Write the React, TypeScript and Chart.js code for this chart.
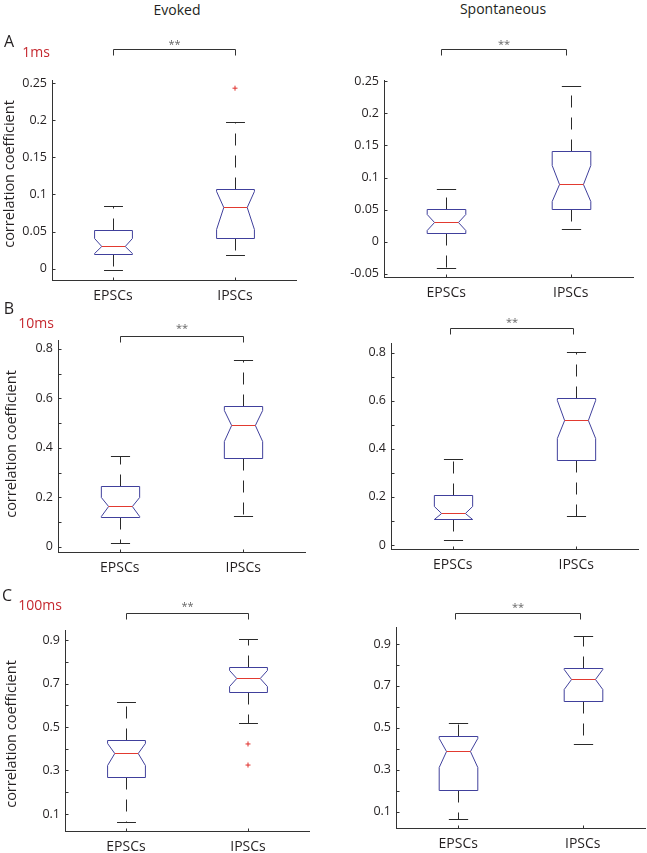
import React, { useEffect, useRef } from "react";
import { Chart, registerables } from "chart.js";

Chart.register(...registerables);
Chart.defaults.font.family = "'Open Sans', 'Noto Sans', sans-serif";

const categories = ["EPSCs", "IPSCs"];
const significance = "**";

// [lower whisker, Q1, notch low, median, notch high, Q3, upper whisker]
const evoked1msEPSC = [-0.002, 0.02, 0.021, 0.031, 0.041, 0.052, 0.084];
const evoked1msIPSC = [0.019, 0.041, 0.053, 0.083, 0.105, 0.107, 0.197];
const evoked1msOutliers = [[], [0.243]];

const spont1msEPSC = [-0.041, 0.0134, 0.019, 0.0305, 0.0424, 0.0507, 0.0828];
const spont1msIPSC = [0.0202, 0.0512, 0.063, 0.0905, 0.119, 0.1417, 0.2426];
const spont1msOutliers = [[], []];

const evoked10msEPSC = [0.0135, 0.119, 0.124, 0.165, 0.202, 0.247, 0.366];
const evoked10msIPSC = [0.124, 0.358, 0.429, 0.493, 0.553, 0.571, 0.756];
const evoked10msOutliers = [[], []];

const spont10msEPSC = [0.021, 0.107, 0.107, 0.1345, 0.164, 0.208, 0.356];
const spont10msIPSC = [0.122, 0.352, 0.444, 0.52, 0.603, 0.61, 0.803];
const spont10msOutliers = [[], []];

const evoked100msEPSC = [0.062, 0.269, 0.325, 0.382, 0.428, 0.44, 0.6165];
const evoked100msIPSC = [0.52, 0.662, 0.688, 0.724, 0.762, 0.777, 0.905];
const evoked100msOutliers = [[], [0.422, 0.325]];

const spont100msEPSC = [0.065, 0.204, 0.315, 0.39, 0.45, 0.461, 0.525];
const spont100msIPSC = [0.425, 0.628, 0.684, 0.733, 0.779, 0.784, 0.938];
const spont100msOutliers = [[], []];

const ticks1msEvoked = [0, 0.05, 0.1, 0.15, 0.2, 0.25];
const tickLabels1msEvoked = ["0", "0.05", "0.1", "0.15", "0.2", "0.25"];
const ticks1msSpont = [-0.05, 0, 0.05, 0.1, 0.15, 0.2, 0.25];
const tickLabels1msSpont = ["-0.05", "0", "0.05", "0.1", "0.15", "0.2", "0.25"];
const ticks10ms = [0, 0.1, 0.2, 0.3, 0.4, 0.5, 0.6, 0.7, 0.8];
const tickLabels10ms = ["0", "", "0.2", "", "0.4", "", "0.6", "", "0.8"];
const ticks100ms = [0.1, 0.2, 0.3, 0.4, 0.5, 0.6, 0.7, 0.8, 0.9];
const tickLabels100ms = ["0.1", "", "0.3", "", "0.5", "", "0.7", "", "0.9"];

const columnTitles = ["Evoked", "Spontaneous"];
const rowLetters = ["A", "B", "C"];
const rowWindows = ["1ms", "10ms", "100ms"];
const yTitle = "correlation coefficient";

const PAD_L = 50;
const PAD_T = 48;
const PAD_R = 1;
const PAD_B = 30;

const panels = [
  { area: { l: 52, t: 80, r: 300, b: 280 }, yMin: -0.015, yMax: 0.254, ticks: ticks1msEvoked, labels: tickLabels1msEvoked, boxes: [evoked1msEPSC, evoked1msIPSC], outliers: evoked1msOutliers, bracketY: 49, starsY: 41, bracketDx: 0 },
  { area: { l: 384, t: 80, r: 633, b: 277 }, yMin: -0.055, yMax: 0.252, ticks: ticks1msSpont, labels: tickLabels1msSpont, boxes: [spont1msEPSC, spont1msIPSC], outliers: spont1msOutliers, bracketY: 49, starsY: 41, bracketDx: -5 },
  { area: { l: 58, t: 340, r: 305, b: 552 }, yMin: -0.0215, yMax: 0.836, ticks: ticks10ms, labels: tickLabels10ms, boxes: [evoked10msEPSC, evoked10msIPSC], outliers: evoked10msOutliers, bracketY: 336, starsY: 325, bracketDx: 0 },
  { area: { l: 391, t: 343, r: 638, b: 549 }, yMin: -0.0166, yMax: 0.84, ticks: ticks10ms, labels: tickLabels10ms, boxes: [spont10msEPSC, spont10msIPSC], outliers: spont10msOutliers, bracketY: 328, starsY: 319, bracketDx: -3 },
  { area: { l: 65, t: 630, r: 313, b: 831 }, yMin: 0.0218, yMax: 0.946, ticks: ticks100ms, labels: tickLabels100ms, boxes: [evoked100msEPSC, evoked100msIPSC], outliers: evoked100msOutliers, bracketY: 613, starsY: 603, bracketDx: 0 },
  { area: { l: 396, t: 627, r: 645, b: 828 }, yMin: 0.022, yMax: 0.981, ticks: ticks100ms, labels: tickLabels100ms, boxes: [spont100msEPSC, spont100msIPSC], outliers: spont100msOutliers, bracketY: 613, starsY: 604, bracketDx: -3 },
];

const notchBoxPlugin = {
  id: "notchBox",
  afterDatasetsDraw(chart: any, _args: any, opts: any) {
    const { ctx, chartArea } = chart;
    const xs = chart.scales.x;
    const ys = chart.scales.y;
    const step = xs.getPixelForValue(1) - xs.getPixelForValue(0);
    const hw = step * 0.155;
    const nw = hw * 0.62;
    const cw = hw * 0.5;
    const line = (x1: number, y1: number, x2: number, y2: number) => {
      ctx.beginPath();
      ctx.moveTo(x1, y1);
      ctx.lineTo(x2, y2);
      ctx.stroke();
    };
    const py = (v: number) => Math.round(ys.getPixelForValue(v)) + 0.5;
    ctx.save();
    ctx.lineWidth = 1;
    (opts.boxes as number[][]).forEach((b, i) => {
      const cx = Math.round(xs.getPixelForValue(i)) + 0.5;
      const [lo, q1, nl, med, nh, q3, hi] = b.map(py);
      ctx.strokeStyle = "#2a2a2a";
      ctx.setLineDash([12, 10]);
      line(cx, q3, cx, hi);
      line(cx, q1, cx, lo);
      ctx.setLineDash([]);
      line(cx - cw, hi, cx + cw, hi);
      line(cx - cw, lo, cx + cw, lo);
      ctx.strokeStyle = "#40409c";
      ctx.beginPath();
      ctx.moveTo(cx - hw, q3);
      ctx.lineTo(cx - hw, nh);
      ctx.lineTo(cx - nw, med);
      ctx.lineTo(cx - hw, nl);
      ctx.lineTo(cx - hw, q1);
      ctx.lineTo(cx + hw, q1);
      ctx.lineTo(cx + hw, nl);
      ctx.lineTo(cx + nw, med);
      ctx.lineTo(cx + hw, nh);
      ctx.lineTo(cx + hw, q3);
      ctx.closePath();
      ctx.stroke();
      ctx.strokeStyle = "#e23a30";
      line(cx - nw, med, cx + nw, med);
    });
    // inside tick marks
    ctx.strokeStyle = "#333";
    const left = Math.round(chartArea.left) + 0.5;
    ys.ticks.forEach((t: any) => {
      const y = py(t.value);
      line(left, y, left + 3, y);
    });
    const bottom = Math.round(chartArea.bottom) + 0.5;
    categories.forEach((_c, i) => {
      const cx = Math.round(xs.getPixelForValue(i)) + 0.5;
      line(cx, bottom, cx, bottom - 3);
    });
    // significance bracket
    const bx1 = Math.round(xs.getPixelForValue(0) + opts.bracketDx) + 0.5;
    const bx2 = Math.round(xs.getPixelForValue(1) + opts.bracketDx) + 0.5;
    const by = Math.round(opts.bracketY) + 0.5;
    ctx.strokeStyle = "#333";
    ctx.beginPath();
    ctx.moveTo(bx1, by + 6);
    ctx.lineTo(bx1, by);
    ctx.lineTo(bx2, by);
    ctx.lineTo(bx2, by + 6);
    ctx.stroke();
    ctx.fillStyle = "#666";
    ctx.font = "11px 'Open Sans', sans-serif";
    ctx.textAlign = "center";
    ctx.textBaseline = "alphabetic";
    ctx.fillText(significance, (bx1 + bx2) / 2, opts.starsY + 7);
    ctx.restore();
  },
};

function Panel({ p }: { p: any }) {
  const ref = useRef<HTMLCanvasElement>(null);
  const width = p.area.r - p.area.l + PAD_L + PAD_R;
  const height = p.area.b - p.area.t + PAD_T + PAD_B;
  const canvasLeft = p.area.l - PAD_L;
  const canvasTop = p.area.t - PAD_T;
  useEffect(() => {
    if (!ref.current) return;
    const points: any[] = [];
    p.outliers.forEach((arr: number[], i: number) =>
      arr.forEach((v) => points.push({ x: categories[i], y: v }))
    );
    const chart = new Chart(ref.current, {
      type: "scatter",
      data: {
        labels: categories,
        datasets: [
          {
            data: points,
            pointStyle: "cross",
            radius: 2.5,
            borderWidth: 1,
            borderColor: "#e0302c",
            backgroundColor: "#e0302c",
          },
        ],
      },
      options: {
        animation: false,
        responsive: false,
        maintainAspectRatio: false,
        layout: { padding: { top: PAD_T, right: PAD_R, left: 0, bottom: 0 } },
        plugins: {
          legend: { display: false },
          tooltip: { enabled: false },
          notchBox: {
            boxes: p.boxes,
            bracketY: p.bracketY - canvasTop,
            starsY: p.starsY - canvasTop,
            bracketDx: p.bracketDx,
          },
        } as any,
        scales: {
          x: {
            type: "category",
            labels: categories,
            offset: true,
            grid: { display: false, drawTicks: false },
            border: { display: true, color: "#333", width: 1 },
            ticks: { font: { size: 14 }, color: "#231f20", padding: 8, autoSkip: false, maxRotation: 0 },
            afterFit: (s: any) => {
              s.height = PAD_B;
            },
          },
          y: {
            type: "linear",
            min: p.yMin,
            max: p.yMax,
            grid: { display: false, drawTicks: false },
            border: { display: true, color: "#333", width: 1 },
            ticks: {
              font: { size: 12.5 },
              color: "#231f20",
              padding: 5,
              autoSkip: false,
              callback: (_v: any, i: number) => p.labels[i],
            },
            afterBuildTicks: (s: any) => {
              s.ticks = p.ticks.map((v: number) => ({ value: v }));
            },
            afterFit: (s: any) => {
              s.width = PAD_L;
            },
          },
        } as any,
      },
      plugins: [notchBoxPlugin],
    });
    return () => chart.destroy();
  }, []);
  return (
    <canvas
      ref={ref}
      width={width}
      height={height}
      style={{ position: "absolute", left: canvasLeft, top: canvasTop, width, height }}
    />
  );
}

const txt = (cx: number, cy: number, size: number, color: string, rotate = false): React.CSSProperties => ({
  position: "absolute",
  left: cx,
  top: cy,
  transform: `translate(-50%, -50%)${rotate ? " rotate(-90deg)" : ""}`,
  fontSize: size,
  color,
  whiteSpace: "nowrap",
  lineHeight: 1,
});

export default function App() {
  const red = "#c5282f";
  const dark = "#231f20";
  return (
    <div
      style={{
        position: "absolute",
        left: 0,
        top: 0,
        width: 647,
        height: 853,
        overflow: "hidden",
        background: "#fff",
        fontFamily: "'Open Sans', 'Noto Sans', sans-serif",
      }}
    >
      {panels.map((p, i) => (
        <Panel key={i} p={p} />
      ))}
      <div style={txt(177, 10, 14, dark)}>{columnTitles[0]}</div>
      <div style={txt(503, 9, 14, dark)}>{columnTitles[1]}</div>
      <div style={txt(9, 41, 16, dark)}>{rowLetters[0]}</div>
      <div style={txt(36, 52, 14, red)}>{rowWindows[0]}</div>
      <div style={txt(9, 308, 16, dark)}>{rowLetters[1]}</div>
      <div style={txt(36, 323, 14, red)}>{rowWindows[1]}</div>
      <div style={txt(7, 595, 16, dark)}>{rowLetters[2]}</div>
      <div style={txt(40, 605, 14, red)}>{rowWindows[2]}</div>
      <div style={txt(9, 174, 14.5, dark, true)}>{yTitle}</div>
      <div style={txt(11, 444, 14.5, dark, true)}>{yTitle}</div>
      <div style={txt(11, 734, 14.5, dark, true)}>{yTitle}</div>
    </div>
  );
}
